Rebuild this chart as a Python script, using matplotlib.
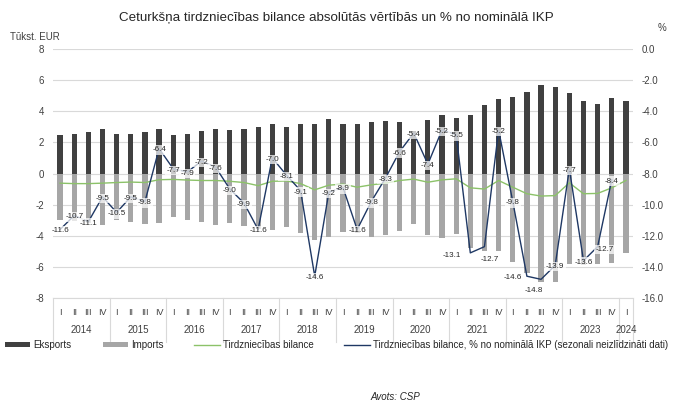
import numpy as np
import matplotlib
matplotlib.use("Agg")
import matplotlib.pyplot as plt
import matplotlib.transforms as mtransforms

plt.rcParams['font.family'] = ['Liberation Sans', 'DejaVu Sans']

years = ['2014', '2015', '2016', '2017', '2018', '2019', '2020', '2021', '2022', '2023', '2024']
quarters = ['I', 'II', 'III', 'IV'] * 10 + ['I']

exports = [2.49, 2.53, 2.66, 2.87, 2.53, 2.57, 2.66, 2.83, 2.45, 2.57, 2.74, 2.87,
           2.77, 2.83, 2.96, 3.21, 3.02, 3.21, 3.21, 3.47, 3.17, 3.17, 3.30, 3.38,
           3.29, 2.75, 3.45, 3.74, 3.54, 3.79, 4.43, 4.77, 4.90, 5.21, 5.68, 5.55,
           5.17, 4.64, 4.47, 4.87, 4.68]
imports = [-3.0, -3.05, -3.2, -3.3, -3.0, -3.1, -3.25, -3.2, -2.8, -3.0, -3.1, -3.3,
           -3.2, -3.35, -3.55, -3.65, -3.45, -3.8, -4.28, -4.06, -3.74, -3.8, -4.05, -3.97,
           -3.72, -3.22, -3.97, -4.12, -3.87, -4.8, -5.0, -5.0, -5.68, -6.42, -7.0, -7.0,
           -5.84, -5.9, -5.8, -5.75, -5.12]
balance = [-0.62, -0.65, -0.65, -0.62, -0.58, -0.55, -0.58, -0.40, -0.38, -0.42, -0.45, -0.45,
           -0.50, -0.58, -0.78, -0.50, -0.48, -0.65, -1.05, -0.75, -0.68, -0.88, -0.73, -0.62,
           -0.45, -0.36, -0.56, -0.41, -0.34, -0.92, -1.00, -0.45, -0.88, -1.30, -1.45, -1.42,
           -0.60, -1.30, -1.28, -0.92, -0.45]
balance_pct = [-11.6, -10.7, -11.1, -9.5, -10.5, -9.5, -9.8, -6.4, -7.7, -7.9, -7.2, -7.6,
               -9.0, -9.9, -11.6, -7.0, -8.1, -9.1, -14.6, -9.2, -8.9, -11.6, -9.8, -8.3,
               -6.6, -5.4, -7.4, -5.2, -5.5, -13.1, -12.7, -5.2, -9.8, -14.6, -14.8, -13.9,
               -7.7, -13.6, -12.7, -8.4, np.nan]

# label offsets in points (dx, dy) for a few labels
label_offsets = {29: (-13, -2), 30: (4, -9), 33: (-10, -1), 34: (-5, -8), 38: (5, -2)}

W, H = 673, 403
fig = plt.figure(figsize=(W / 100, H / 100), dpi=100)
left, right, top, bottom = 53, 633, 49, 298
ax = fig.add_axes([left / W, 1 - bottom / H, (right - left) / W, (bottom - top) / H])
ax2 = ax.twinx()

x = np.arange(len(exports))
bw = 0.37
b_imp = ax.bar(x, imports, width=bw, color='#a6a6a6', zorder=2)
b_exp = ax.bar(x, exports, width=bw, color='#404040', zorder=2)
l_bal, = ax.plot(x, balance, color='#8cc269', lw=1.0, zorder=3)

ax.set_ylim(-8, 8)
ax.set_yticks(np.arange(-8, 9, 2))
ax.set_yticklabels([f'{v:d}' for v in range(-8, 9, 2)])
ax.set_xlim(-0.5, len(exports) - 0.5)
ax.grid(axis='y', color='#d9d9d9', lw=0.8, zorder=0)
ax.set_axisbelow(True)

l_pct, = ax2.plot(x, balance_pct, color='#1f3864', lw=1.0, zorder=4)
ax2.set_ylim(-16, 0)
ax2.set_yticks(np.arange(-16, 0.1, 2))
ax2.set_yticklabels([f'{v:.1f}' for v in np.arange(-16, 0.1, 2)])

for i, v in enumerate(balance_pct):
    if np.isnan(v):
        continue
    dx, dy = label_offsets.get(i, (0, -1))
    ax2.annotate(f'{v:.1f}', (i, v), xytext=(dx, dy), textcoords='offset points',
                 ha='center', va='center', fontsize=5.8, color='#262626', zorder=6,
                 bbox=dict(boxstyle='square,pad=0.15', fc='white', ec='none', alpha=0.72))

for a in (ax, ax2):
    for s in a.spines.values():
        s.set_visible(False)
    a.tick_params(axis='y', length=0, labelsize=7, colors='#404040', pad=6.5)

ax.spines['bottom'].set_visible(True)
ax.spines['bottom'].set_color('#d9d9d9')
ax.set_xticks(x)
ax.set_xticklabels(quarters)
ax.tick_params(axis='x', length=0, labelsize=6.5, colors='#404040', pad=7)

trans = mtransforms.blended_transform_factory(ax.transData, ax.transAxes)
bounds = [-0.5 + 4 * k for k in range(11)] + [40.5]
for b in bounds:
    ax.plot([b, b], [0, -0.175], transform=trans, color='#d9d9d9', lw=0.8, clip_on=False)
for k, yr in enumerate(years):
    xc = 1.5 + 4 * k if k < 10 else 40
    ax.text(xc, -0.127, yr, transform=trans, ha='center', va='center',
            fontsize=7, color='#404040')

fig.text(0.5, 1 - 18 / H, 'Ceturkšņa tirdzniecības bilance absolūtās vērtībās un % no nominālā IKP',
         ha='center', va='center', fontsize=9.6, color='#262626')
fig.text(10 / W, 1 - 37 / H, 'Tūkst. EUR', ha='left', va='center', fontsize=7, color='#404040')
fig.text(662 / W, 1 - 28 / H, '%', ha='center', va='center', fontsize=7, color='#404040')
fig.text(395 / W, 1 - 397 / H, 'Avots: CSP', ha='center', va='center', fontsize=7,
         style='italic', color='#262626')

handles = [b_exp, b_imp, l_bal, l_pct]
labels = ['Eksports', 'Imports', 'Tirdzniecības bilance',
          'Tirdzniecības bilance, % no nominālā IKP (sezonali neizlīdzināti dati)']
fig.legend(handles, labels, loc='center', bbox_to_anchor=(0.5, 1 - 345 / H), ncol=4,
           frameon=False, fontsize=7, handlelength=2.6, handleheight=0.5,
           columnspacing=3.2, handletextpad=0.3, labelcolor='#262626')

fig.savefig('out.png', dpi=100)
